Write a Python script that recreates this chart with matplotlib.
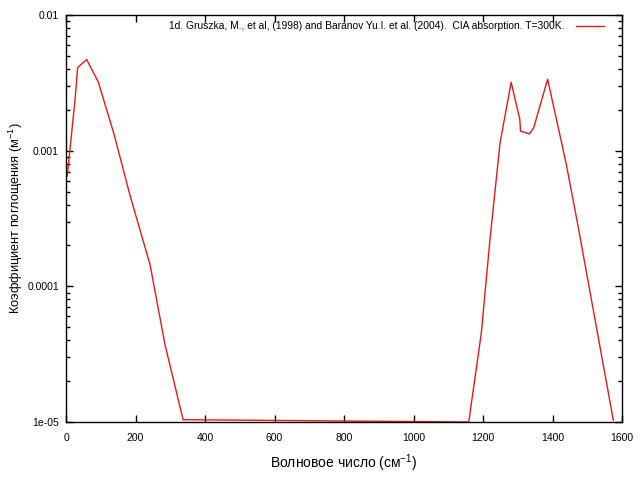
import numpy as np
import matplotlib
matplotlib.use("Agg")
from matplotlib import pyplot as plt
from matplotlib.ticker import FixedLocator, FixedFormatter, LogLocator, NullFormatter

# волновое число (см-1) и коэффициент поглощения (м-1)
wavenumber = [3.7, 26.8, 33.5, 59.5, 93, 138, 184, 242, 285, 337,
              1159, 1195, 1220, 1249, 1281, 1306, 1308, 1334, 1346,
              1386, 1398, 1439, 1473, 1575]
absorption = [6.5e-4, 2.5e-3, 4.1e-3, 4.7e-3, 3.2e-3, 1.33e-3, 4.7e-4, 1.44e-4, 3.7e-5, 1.04e-5,
              1.0e-5, 4.5e-5, 2.2e-4, 1.14e-3, 3.19e-3, 1.70e-3, 1.39e-3, 1.33e-3, 1.48e-3,
              3.36e-3, 2.43e-3, 8.1e-4, 2.83e-4, 1.03e-5]

legend_text = "1d. Gruszka, M., et al, (1998) and Baranov Yu.I. et al. (2004).  CIA absorption. T=300K."
y_ticks = [1e-5, 1e-4, 1e-3, 1e-2]
y_labels = ["1e-05", "0.0001", "0.001", "0.01"]

plt.rcParams['font.family'] = ['Liberation Sans', 'DejaVu Sans']
plt.rcParams['mathtext.fontset'] = 'custom'
plt.rcParams['mathtext.rm'] = 'Liberation Sans'
fig = plt.figure(figsize=(6.4, 4.8), dpi=100)
ax = fig.add_axes([66/640, 1 - 422/480, (622 - 66)/640, (422 - 15)/480])

ax.plot(wavenumber, absorption, color='#e41a1c', lw=1, label=legend_text)
ax.set_yscale('log')
ax.set_xlim(0, 1600)
ax.set_ylim(1e-5, 1e-2)
ax.set_xticks(range(0, 1601, 200))
ax.yaxis.set_major_locator(FixedLocator(y_ticks))
ax.yaxis.set_major_formatter(FixedFormatter(y_labels))
ax.yaxis.set_minor_locator(LogLocator(base=10, subs=np.arange(2, 10)))
ax.yaxis.set_minor_formatter(NullFormatter())

ax.tick_params(which='both', direction='in', top=True, right=True, labelsize=7.5, colors='black')
ax.tick_params(which='major', length=5, width=1)
ax.tick_params(which='minor', length=3, width=1)
ax.tick_params(axis='x', pad=8)
ax.tick_params(axis='y', pad=5)
for s in ax.spines.values():
    s.set_linewidth(1)

ax.set_xlabel("Волновое число (см$^{-1}$)", fontsize=10, labelpad=7)
ax.set_ylabel("Коэффициент поглощения (м$^{-1}$)", fontsize=9.2, labelpad=2)

ax.legend(loc='upper right', frameon=False, fontsize=7.4, markerfirst=False,
          handlelength=2.7, borderaxespad=0.2, handletextpad=1.1,
          bbox_to_anchor=(0.978, 1.0))

fig.savefig("out.png", dpi=100)
